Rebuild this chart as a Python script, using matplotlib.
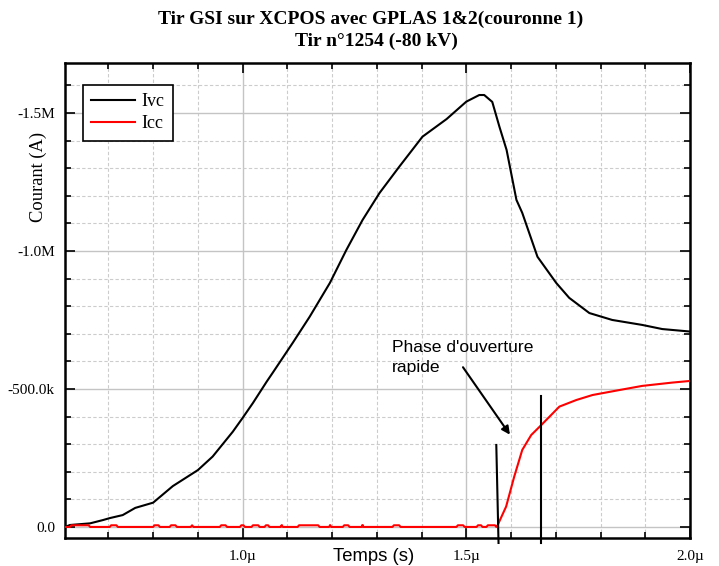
import numpy as np
import matplotlib.pyplot as plt
from matplotlib.ticker import MultipleLocator

# Ivc : courant vu par le generateur (time in us, current in kA)
ivc_t = [0.603, 0.614, 0.659, 0.688, 0.703, 0.732, 0.76, 0.80, 0.844, 0.90,
         0.933, 0.978, 1.0, 1.023, 1.054, 1.067, 1.112, 1.15, 1.195, 1.232,
         1.268, 1.306, 1.35, 1.402, 1.456, 1.50, 1.529, 1.54, 1.558, 1.574,
         1.59, 1.612, 1.625, 1.659, 1.701, 1.73, 1.775, 1.826, 1.893, 1.938, 2.0]
ivc_i = [0, -7, -13, -25, -32, -43, -69, -88, -148, -206,
         -255, -345, -395, -449, -527, -558, -667, -762, -884, -1004,
         -1112, -1210, -1305, -1414, -1478, -1541, -1565, -1565, -1540, -1450,
         -1366, -1185, -1138, -979, -884, -830, -775, -750, -732, -717, -708]

# Icc : small bumps on the baseline, then the fast opening
noise_on = [0.614, 0.703, 0.80, 0.837, 0.884, 0.949, 0.994, 1.02, 1.049,
            1.085, 1.123, 1.193, 1.224, 1.266, 1.335, 1.478, 1.523, 1.545]
noise_off = [0.659, 0.721, 0.815, 0.853, 0.89, 0.965, 1.005, 1.038, 1.06,
             1.09, 1.172, 1.198, 1.239, 1.27, 1.353, 1.496, 1.536, 1.567]
noise_level = -6
rise_t = [1.569, 1.589, 1.607, 1.625, 1.645, 1.668, 1.708, 1.746, 1.782,
          1.842, 1.893, 1.96, 2.0]
rise_i = [-3, -74, -182, -279, -333, -370, -436, -460, -478, -496, -511, -523, -529]

# annotation marks
mark1_t = [1.567, 1.572]
mark1_i = [-297, 58]
mark2_t = [1.668, 1.668]
mark2_i = [-475, 58]

ytick_vals = [0, -500, -1000, -1500]
ytick_labels = ['0.0', '-500.0k', '-1.0M', '-1.5M']
xtick_vals = [1.0, 1.5, 2.0]
xtick_labels = ['1.0\u00b5', '1.5\u00b5', '2.0\u00b5']

# build Icc series
icc_t = [0.603]
icc_i = [0]
for a, b in zip(noise_on, noise_off):
    icc_t += [a, a + 0.003, b - 0.003, b]
    icc_i += [0, noise_level, noise_level, 0]
icc_t += rise_t
icc_i += rise_i

serif = ['Liberation Serif', 'DejaVu Serif']
sans = ['Liberation Sans', 'DejaVu Sans']
plt.rcParams['font.family'] = serif

fig = plt.figure(figsize=(7.19, 5.66), dpi=100)
ax = fig.add_axes([0.0904, 0.0495, 0.8693, 0.8392])

ax.plot(ivc_t, ivc_i, color='black', lw=1.5, label='Ivc', zorder=3)
ax.plot(icc_t, icc_i, color='#ff0000', lw=1.5, label='Icc', zorder=3)

ax.plot(mark1_t, mark1_i, color='black', lw=1.5, clip_on=False, zorder=4)
ax.plot(mark2_t, mark2_i, color='black', lw=1.5, clip_on=False, zorder=4)

ax.annotate('', xy=(1.601, -326), xytext=(1.489, -587),
            arrowprops=dict(arrowstyle='-|>', color='black', lw=1.5,
                            mutation_scale=12))
ax.text(1.333, -678, "Phase d'ouverture\nrapide", family=sans, fontsize=12.6,
        ha='left', va='top', linespacing=1.45)

ax.set_xlim(0.603, 2.0)
ax.set_ylim(40, -1681)

ax.set_xticks(xtick_vals)
ax.set_xticklabels(xtick_labels)
ax.set_yticks(ytick_vals)
ax.set_yticklabels(ytick_labels)
ax.xaxis.set_minor_locator(MultipleLocator(0.1))
ax.yaxis.set_minor_locator(MultipleLocator(100))
ax.tick_params(which='both', direction='in', top=True, right=True,
               labelsize=11, width=1.2)
ax.tick_params(which='major', length=7)
ax.tick_params(axis='y', which='major', pad=7.2)
ax.tick_params(axis='x', which='major', pad=9)
ax.tick_params(which='minor', length=4)

ax.grid(which='major', color='#c4c4c4', lw=1.0, ls='-')
ax.grid(which='minor', color='#cccccc', lw=0.8, ls=(0, (3, 2)))
ax.set_axisbelow(True)
for s in ax.spines.values():
    s.set_linewidth(1.8)

ax.text(0.493, -0.04, 'Temps (s)', transform=ax.transAxes, family=sans,
        fontsize=13.3, ha='center', va='center')
fig.text(0.053, 0.687, 'Courant (A)', rotation=90, fontsize=13.3,
         ha='center', va='center')

fig.text(0.515, 0.966, 'Tir GSI sur XCPOS avec GPLAS 1&2(couronne 1)',
         fontsize=14, fontweight='bold', ha='center', va='center')
fig.text(0.523, 0.927, 'Tir n\u00b01254 (-80 kV)',
         fontsize=14, fontweight='bold', ha='center', va='center')

leg = ax.legend(loc='upper left', bbox_to_anchor=(0.029, 0.954),
                borderaxespad=0, fancybox=False, edgecolor='black',
                framealpha=1, fontsize=13, handlelength=2.4,
                handletextpad=0.4, labelspacing=0.3, borderpad=0.45)
leg.get_frame().set_linewidth(1.2)

fig.savefig('out.png', dpi=100)
